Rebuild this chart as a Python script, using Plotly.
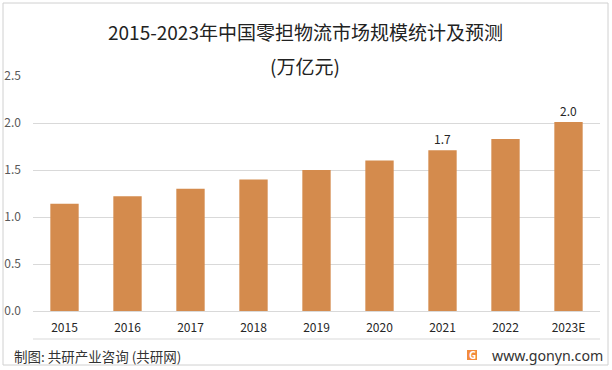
import plotly.graph_objects as go

years = ["2015", "2016", "2017", "2018", "2019", "2020", "2021", "2022", "2023E"]
values = [1.14, 1.22, 1.30, 1.40, 1.50, 1.60, 1.71, 1.83, 2.01]
labels = ["", "", "", "", "", "", "1.7", "", "2.0"]
y_ticks = [0.0, 0.5, 1.0, 1.5, 2.0, 2.5]

W, H = 612, 370
L, R, T, B = 33, 12, 76, 59
pw, ph = W - L - R, H - T - B

def px(x):
    return (x - L) / pw

def py(y):
    return (H - B - y) / ph

fig = go.Figure(go.Bar(
    x=years, y=values, text=labels, textposition="outside",
    textfont=dict(size=12, color="#262626", family="Noto Sans CJK SC"),
    marker=dict(color="#d48b4d", line=dict(width=0)),
    cliponaxis=False, hoverinfo="skip",
))

fig.update_layout(
    width=W, height=H, margin=dict(l=L, r=R, t=T, b=B, autoexpand=False),
    paper_bgcolor="white", plot_bgcolor="white",
    bargap=0.55, showlegend=False,
    font=dict(family="Noto Sans CJK SC", color="#595959"),
    xaxis=dict(showgrid=False, showline=False, ticks="", ticklabelstandoff=8,
               automargin=False,
               tickfont=dict(size=12, color="#262626"), fixedrange=True),
    yaxis=dict(range=[0, 2.5], tickvals=y_ticks, tickformat=".1f",
               showgrid=True, gridcolor="#d9d9d9", gridwidth=1,
               zeroline=True, zerolinecolor="#d9d9d9", zerolinewidth=1,
               showline=False, ticks="", ticklabelstandoff=11, automargin=False,
               tickfont=dict(size=12, color="#595959"), fixedrange=True),
    annotations=[
        dict(text="2015-2023年中国零担物流市场规模统计及预测", x=px(305), xref="paper",
             y=py(32), yref="paper", showarrow=False, xanchor="center", yanchor="middle",
             font=dict(size=19, color="#222222")),
        dict(text="(万亿元)", x=px(305), xref="paper",
             y=py(65), yref="paper", showarrow=False, xanchor="center", yanchor="middle",
             font=dict(size=19, color="#222222")),
        dict(text="制图: 共研产业咨询 (共研网)", x=px(12), xref="paper",
             y=py(356), yref="paper", showarrow=False, xanchor="left", yanchor="middle",
             font=dict(size=13.5, color="#333333")),
        dict(text="www.gonyn.com", x=px(490), xref="paper",
             y=py(355), yref="paper", showarrow=False, xanchor="left", yanchor="middle",
             font=dict(size=14.2, color="#333333", family="Noto Sans")),
        dict(text="<b>G</b>", x=px(472), xref="paper",
             y=py(355), yref="paper", showarrow=False, xanchor="center", yanchor="middle",
             font=dict(size=10, color="white", family="Noto Sans")),
    ],
    shapes=[
        dict(type="rect", xref="paper", yref="paper",
             x0=px(3), x1=px(608), y0=py(3), y1=py(365),
             line=dict(color="#d0d0d0", width=1), fillcolor="rgba(0,0,0,0)", layer="above"),
        dict(type="line", xref="paper", yref="paper",
             x0=px(33), x1=px(600), y0=py(339), y1=py(339),
             line=dict(color="#d9d9d9", width=1)),
        dict(type="rect", xref="paper", yref="paper",
             x0=px(467), x1=px(477), y0=py(350), y1=py(360),
             line=dict(width=0), fillcolor="#f28b3c", layer="above"),
    ],
)

fig.write_html("out.html", config={"displayModeBar": False},
               post_script="document.body.style.margin='0';document.body.style.overflow='hidden';")
